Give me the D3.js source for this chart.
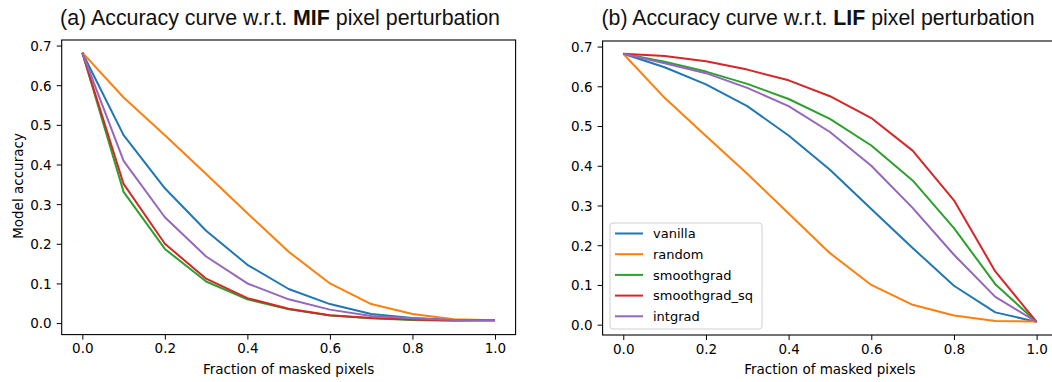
<!DOCTYPE html>
<html>
<head>
<meta charset="utf-8">
<script src="https://cdn.jsdelivr.net/npm/d3@7"></script>
<style>
  body { margin: 0; background: #fff; }
  svg { display: block; }
  .tick text { font-family: "DejaVu Sans", sans-serif; font-size: 13.5px; fill: #000; }
  .tick line { stroke: #000; }
  .domain { display: none; }
</style>
</head>
<body>
<svg id="fig" width="1052" height="382"></svg>
<script>
// fraction of masked pixels
var fractions = [0, 0.1, 0.2, 0.3, 0.4, 0.5, 0.6, 0.7, 0.8, 0.9, 1.0];
var methods = ['vanilla', 'random', 'smoothgrad', 'smoothgrad_sq', 'intgrad'];
var colors = ['#1f77b4', '#ff7f0e', '#2ca02c', '#d62728', '#9467bd'];
var xTicks = [0, 0.2, 0.4, 0.6, 0.8, 1.0];
var yTicks = [0, 0.1, 0.2, 0.3, 0.4, 0.5, 0.6, 0.7];

// (a) most important first
var mifVanilla      = [0.682, 0.474, 0.340, 0.233, 0.147, 0.086, 0.048, 0.023, 0.013, 0.008, 0.007];
var mifRandom       = [0.682, 0.569, 0.474, 0.376, 0.277, 0.180, 0.100, 0.048, 0.023, 0.010, 0.007];
var mifSmoothgrad   = [0.682, 0.331, 0.187, 0.105, 0.060, 0.035, 0.019, 0.012, 0.008, 0.006, 0.007];
var mifSmoothgradSq = [0.682, 0.351, 0.200, 0.112, 0.063, 0.036, 0.020, 0.013, 0.009, 0.007, 0.007];
var mifIntgrad      = [0.682, 0.409, 0.267, 0.168, 0.100, 0.060, 0.034, 0.018, 0.012, 0.008, 0.007];

// (b) least important first
var lifVanilla      = [0.682, 0.648, 0.605, 0.550, 0.476, 0.390, 0.291, 0.193, 0.098, 0.031, 0.007];
var lifRandom       = [0.682, 0.571, 0.475, 0.380, 0.280, 0.180, 0.100, 0.050, 0.023, 0.009, 0.008];
var lifSmoothgrad   = [0.682, 0.662, 0.637, 0.606, 0.568, 0.518, 0.451, 0.363, 0.243, 0.102, 0.007];
var lifSmoothgradSq = [0.682, 0.676, 0.663, 0.642, 0.615, 0.575, 0.520, 0.438, 0.313, 0.134, 0.007];
var lifIntgrad      = [0.682, 0.658, 0.633, 0.596, 0.550, 0.485, 0.400, 0.294, 0.176, 0.070, 0.007];

var svg = d3.select('#fig');

function drawPanel(opt) {
  var x = d3.scaleLinear().domain([-0.05, 1.05]).range([opt.left, opt.right]);
  var y = d3.scaleLinear().domain(opt.ydom).range([opt.bottom, opt.top]);
  var g = svg.append('g');

  g.append('g')
    .attr('transform', 'translate(0,' + opt.bottom + ')')
    .call(d3.axisBottom(x).tickValues(xTicks).tickFormat(d3.format('.1f')).tickSize(5).tickPadding(4));
  g.append('g')
    .attr('transform', 'translate(' + opt.left + ',0)')
    .call(d3.axisLeft(y).tickValues(yTicks).tickFormat(d3.format('.1f')).tickSize(5).tickPadding(5))
    .selectAll('.tick text').attr('dy', '0.36em');

  var line = d3.line()
    .x(function(d, i){ return x(fractions[i]); })
    .y(function(d){ return y(d); });

  opt.series.forEach(function(s, i){
    g.append('path')
      .datum(s)
      .attr('d', line)
      .attr('fill', 'none')
      .attr('stroke', colors[i])
      .attr('stroke-width', 2)
      .attr('stroke-linejoin', 'round');
  });

  // frame
  g.append('rect')
    .attr('x', opt.left).attr('y', opt.top)
    .attr('width', opt.right - opt.left).attr('height', opt.bottom - opt.top)
    .attr('fill', 'none').attr('stroke', '#000').attr('stroke-width', 1.1);

  // title
  var t = g.append('text')
    .attr('x', opt.titleX).attr('y', 25)
    .attr('text-anchor', 'middle')
    .attr('font-family', 'Liberation Sans, Arial, sans-serif')
    .attr('font-size', 21.5)
    .attr('textLength', opt.titleW)
    .attr('lengthAdjust', 'spacingAndGlyphs')
    .attr('fill', '#111');
  t.append('tspan').text(opt.title[0]);
  t.append('tspan').attr('font-weight', 'bold').text(opt.title[1]);
  t.append('tspan').text(opt.title[2]);

  g.append('text')
    .attr('x', (opt.left + opt.right) / 2).attr('y', 374)
    .attr('text-anchor', 'middle')
    .attr('font-family', 'DejaVu Sans, sans-serif')
    .attr('font-size', 13.5)
    .text('Fraction of masked pixels');

  return g;
}

var left = drawPanel({
  left: 61.7, right: 515.6, top: 40, bottom: 334.6, ydom: [-0.029, 0.714],
  series: [mifVanilla, mifRandom, mifSmoothgrad, mifSmoothgradSq, mifIntgrad],
  title: ['(a) Accuracy curve w.r.t. ', 'MIF', ' pixel perturbation'],
  titleX: 280, titleW: 440
});

left.append('text')
  .attr('transform', 'translate(23,186) rotate(-90)')
  .attr('text-anchor', 'middle')
  .attr('font-family', 'DejaVu Sans, sans-serif')
  .attr('font-size', 13.5)
  .text('Model accuracy');

var right = drawPanel({
  left: 602.6, right: 1057.3, top: 41, bottom: 335, ydom: [-0.026, 0.714],
  series: [lifVanilla, lifRandom, lifSmoothgrad, lifSmoothgradSq, lifIntgrad],
  title: ['(b) Accuracy curve w.r.t. ', 'LIF', ' pixel perturbation'],
  titleX: 818, titleW: 433
});

// legend
var lg = right.append('g').attr('transform', 'translate(610,223)');
lg.append('rect')
  .attr('width', 152).attr('height', 106).attr('rx', 3)
  .attr('fill', '#fff').attr('fill-opacity', 0.8)
  .attr('stroke', '#d0d0d0');
methods.forEach(function(m, i){
  var yy = 10.5 + i * 20.7;
  lg.append('line')
    .attr('x1', 5).attr('x2', 33).attr('y1', yy).attr('y2', yy)
    .attr('stroke', colors[i]).attr('stroke-width', 2);
  lg.append('text')
    .attr('x', 43).attr('y', yy).attr('dy', '0.36em')
    .attr('font-family', 'DejaVu Sans, sans-serif')
    .attr('font-size', 13)
    .text(m);
});
</script>
</body>
</html>
